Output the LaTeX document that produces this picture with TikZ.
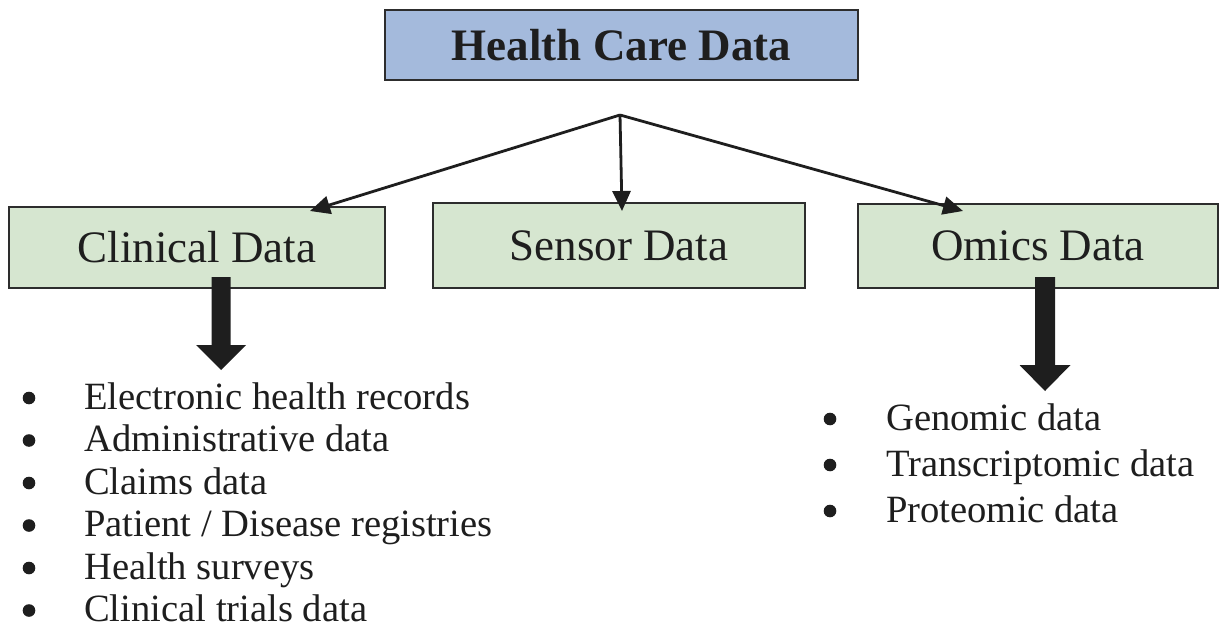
\documentclass[tikz,border=0pt]{standalone}
\usepackage{fontspec}
\setmainfont{Liberation Serif}
\usetikzlibrary{arrows.meta}

\definecolor{topblue}{RGB}{164,186,220}
\definecolor{boxgreen}{RGB}{214,230,208}
\definecolor{edgegray}{RGB}{45,45,45}
\definecolor{inkblack}{RGB}{30,30,30}

\tikzset{
  every node/.style={text=inkblack},
  headbox/.style={draw=edgegray, line width=2pt, fill=topblue,
    minimum width=473pt, minimum height=70pt, inner sep=0pt,
    font=\fontsize{45}{54}\selectfont\bfseries},
  catbox/.style={draw=edgegray, line width=2pt, fill=boxgreen,
    inner sep=0pt, font=\fontsize{45}{54}\selectfont},
  branch/.style={draw=inkblack, line width=2.8pt,
    -{Triangle[length=20pt,width=18pt]}},
  listitem/.style={anchor=base west, inner sep=0pt,
    font=\fontsize{38.6}{46}\selectfont},
  bigarrow/.style={fill=inkblack},
  dot/.style={fill=inkblack}
}

\begin{document}
\begin{tikzpicture}[x=1pt, y=-1pt]
  \useasboundingbox (0,0) rectangle (1220,628);

  % top level and the three categories
  \node[headbox] (hcd) at (621.5,45) {Health Care Data};
  \node[catbox, minimum width=376pt, minimum height=81pt] (clin) at (197,247.5) {Clinical Data};
  \node[catbox, minimum width=372pt, minimum height=85pt] (sens) at (619,245.5) {Sensor Data};
  \node[catbox, minimum width=360pt, minimum height=84pt] (omic) at (1038,246) {Omics Data};

  % branching connectors from a common hub point
  \coordinate (hub) at (620,115);
  \draw[branch] (hub) -- ([xshift=113pt, yshift=-5pt]clin.north);
  \draw[branch] (hub) -- ([xshift=3pt, yshift=-9pt]sens.north);
  \draw[branch] (hub) -- ([xshift=-75pt, yshift=-8pt]omic.north);

  % thick block arrows down to the lists
  \coordinate (ca) at (221,277);
  \fill[bigarrow] (ca) ++(-9.5,0) -- ++(0,68) -- ++(-15.5,0) -- ++(25,25)
    -- ++(25,-25) -- ++(-15.5,0) -- ++(0,-68) -- cycle;
  \coordinate (oa) at (1045,277);
  \fill[bigarrow] (oa) ++(-10,0) -- ++(0,88) -- ++(-15.5,0) -- ++(25.5,26)
    -- ++(25.5,-26) -- ++(-15.5,0) -- ++(0,-88) -- cycle;

  % clinical data sources
  \foreach \t [count=\i] in {Electronic health records, Administrative data,
      Claims data, Patient / Disease registries, Health surveys,
      Clinical trials data}{
    \pgfmathsetmacro{\yb}{409+42.5*(\i-1)}
    \fill[dot] (29,\yb-11) circle (6.3);
    \node[listitem] (cl\i) at (84,\yb) {\t};
  }

  % omics data types
  \foreach \t [count=\i] in {Genomic data, Transcriptomic data, Proteomic data}{
    \pgfmathsetmacro{\yb}{430+46*(\i-1)}
    \fill[dot] (830,\yb-11) circle (6.3);
    \node[listitem] (om\i) at (886,\yb) {\t};
  }
\end{tikzpicture}
\end{document}
